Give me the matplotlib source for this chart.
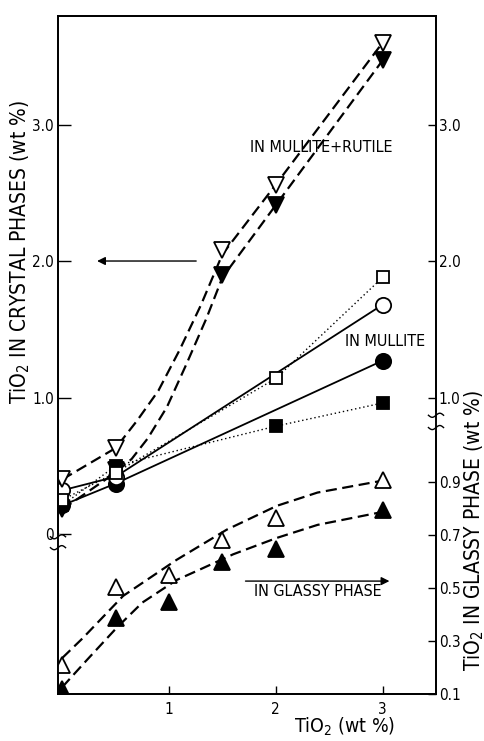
import numpy as np
import matplotlib
matplotlib.use('Agg')
import matplotlib.pyplot as plt
from matplotlib import font_manager as fm
from matplotlib.transforms import blended_transform_factory

# a condensed face is closest to the original lettering; use it if present
cond = [f for f in fm.fontManager.ttflist
        if f.name == 'DejaVu Sans' and 'Condensed' in f.fname]
if cond:
    plt.rcParams['font.family'] = ['DejaVu Sans']
    plt.rcParams['font.stretch'] = 'condensed'
    fs_tick, fs_note, fs_lab = 11, 11.5, 15
else:
    plt.rcParams['font.family'] = ['Liberation Sans', 'DejaVu Sans']
    plt.rcParams['mathtext.fontset'] = 'custom'
    plt.rcParams['mathtext.rm'] = 'Liberation Sans'
    fs_tick, fs_note, fs_lab = 11, 11.5, 13.5

# --- TiO2 in crystal phases (left scale) ---
x_rut = [0, 0.5, 1.5, 2, 3]
rut_open = [0.40, 0.63, 2.08, 2.56, 3.60]     # open down-triangles
rut_fill = [0.18, 0.47, 1.90, 2.41, 3.47]     # filled down-triangles
# dashed guide curves
rut_open_cx = [0, 0.5, 0.7, 0.9, 1.1, 1.3, 1.5, 2.0, 3.0]
rut_open_cy = [0.40, 0.63, 0.83, 1.05, 1.35, 1.68, 2.05, 2.56, 3.60]
rut_fill_cx = [0, 0.5, 0.65, 0.8, 0.98, 1.16, 1.35, 1.5, 2.0, 3.0]
rut_fill_cy = [0.18, 0.45, 0.55, 0.70, 0.93, 1.24, 1.58, 1.88, 2.41, 3.47]

x_circ = [0, 0.5, 3]
mul_circ_open = [0.32, 0.42, 1.68]
mul_circ_fill = [0.21, 0.37, 1.27]

x_sq = [0, 0.5, 2, 3]
mul_sq_open = [0.25, 0.45, 1.14, 1.88]
mul_sq_fill = [0.21, 0.50, 0.79, 0.96]

# --- TiO2 in glassy phase (right, lower scale) ---
x_gl = [0, 0.5, 1, 1.5, 2, 3]
gl_open = [0.21, 0.505, 0.549, 0.68, 0.764, 0.908]
gl_fill = [0.119, 0.387, 0.447, 0.598, 0.647, 0.794]
gl_open_cx = [0, 0.19, 0.57, 1.07, 1.54, 2.01, 2.39, 3.0]
gl_open_cy = [0.236, 0.31, 0.47, 0.606, 0.72, 0.81, 0.86, 0.905]
gl_fill_cx = [0, 0.23, 0.51, 0.75, 1.07, 1.28, 1.6, 2.01, 2.39, 3.0]
gl_fill_cy = [0.126, 0.228, 0.35, 0.445, 0.53, 0.568, 0.627, 0.689, 0.738, 0.787]

left_ticks = [0, 1, 2, 3]
left_labels = ['0', '1.0', '2.0', '3.0']
right_ticks = [1, 2, 3]
right_labels = ['1.0', '2.0', '3.0']
gl_ticks = [0.1, 0.3, 0.5, 0.7, 0.9]
gl_labels = ['0.1', '0.3', '0.5', '0.7', '0.9']
x_ticks = [1, 2, 3]

fig = plt.figure(figsize=(4.85, 7.41), dpi=100)
ax = fig.add_axes([58/485, 1-694/741, 378/485, 678/741])
ax.set_xlim(-0.04, 3.5)
ax.set_ylim(-1.172, 3.795)
ax_g = ax.twinx()
ax_g.set_ylim(0.1, 2.658)
ax_r = ax.twinx()
ax_r.set_ylim(ax.get_ylim())

dash = dict(color='k', lw=1.6, dashes=(5, 2.5))
ax.plot(rut_open_cx, rut_open_cy, **dash)
ax.plot(rut_fill_cx, rut_fill_cy, **dash)
ax.plot(x_circ, mul_circ_open, color='k', lw=1.3)
ax.plot(x_circ, mul_circ_fill, color='k', lw=1.3)
ax.plot(x_sq, mul_sq_open, color='k', lw=1.0, ls=(0, (1, 2)))
ax.plot(x_sq, mul_sq_fill, color='k', lw=1.0, ls=(0, (1, 2)))

mk = dict(ls='none', mec='k', mew=1.3)
ax.plot(x_sq, mul_sq_fill, marker='s', ms=9, mfc='k', **mk)
ax.plot(x_circ, mul_circ_fill, marker='o', ms=11, mfc='k', **mk)
ax.plot(x_rut, rut_fill, marker='v', ms=11, mfc='k', **mk)
ax.plot(x_circ, mul_circ_open, marker='o', ms=11, mfc='white', **mk)
ax.plot(x_sq, mul_sq_open, marker='s', ms=9, mfc='white', **mk)
ax.plot(x_rut, rut_open, marker='v', ms=11, mfc='white', **mk)

ax_g.plot(gl_open_cx, gl_open_cy, **dash)
ax_g.plot(gl_fill_cx, gl_fill_cy, **dash)
ax_g.plot(x_gl, gl_open, marker='^', ms=11, mfc='white', **mk)
ax_g.plot(x_gl, gl_fill, marker='^', ms=11, mfc='k', **mk)

# ticks
ax.set_xticks(x_ticks)
ax.set_xticklabels([str(t) for t in x_ticks])
ax.set_yticks(left_ticks)
ax.set_yticklabels(left_labels)
ax.tick_params(axis='y', direction='in', length=9, width=1, labelsize=fs_tick, pad=3)
ax.tick_params(axis='x', direction='in', length=6, width=1, labelsize=fs_tick, pad=6)
ax_g.set_yticks(gl_ticks)
ax_g.set_yticklabels(gl_labels)
ax_g.tick_params(axis='y', direction='in', length=6, width=1, labelsize=fs_tick, pad=2)
ax_r.set_yticks(right_ticks)
ax_r.set_yticklabels(right_labels)
ax_r.tick_params(axis='y', direction='in', length=6, width=1, labelsize=fs_tick, pad=2)
for a in (ax, ax_g, ax_r):
    for s in a.spines.values():
        s.set_linewidth(1.1)

# axis breaks
tr = blended_transform_factory(ax.transAxes, ax.transData)
xs = np.linspace(-0.02, 0.02, 30)
for xa, (y_hi, y_lo) in [(0, (-0.02, -0.10)), (1, (0.87, 0.78))]:
    ax.plot([xa, xa], [y_lo, y_hi], color='white', lw=4, transform=tr,
            clip_on=False, zorder=6)
    for yc in (y_hi, y_lo):
        ax.plot(xa + xs, yc + 0.015 * np.sin(np.pi * xs / 0.02), color='k',
                lw=1.0, transform=tr, clip_on=False, zorder=7)

# arrows and annotations
ax.annotate('', xy=(0.30, 2.0), xytext=(1.28, 2.0),
            arrowprops=dict(arrowstyle='-|>', lw=1.0, color='k', mutation_scale=12))
ax_g.annotate('', xy=(3.09, 0.526), xytext=(1.69, 0.526),
              arrowprops=dict(arrowstyle='-|>', lw=1.0, color='k', mutation_scale=12))
ax_g.text(2.39, 0.485, 'IN GLASSY PHASE', ha='center', va='center', fontsize=fs_note)
ax.text(2.43, 2.83, 'IN MULLITE+RUTILE', ha='center', va='center', fontsize=fs_note)
ax.text(3.02, 1.41, 'IN MULLITE', ha='center', va='center', fontsize=fs_note)

fig.text(20/485, 1-252/741, 'TiO$_2$ IN CRYSTAL PHASES (wt %)', rotation=90,
         ha='center', va='center', fontsize=fs_lab)
fig.text(474/485, 1-531/741, 'TiO$_2$ IN GLASSY PHASE (wt %)', rotation=90,
         ha='center', va='center', fontsize=fs_lab)
fig.text(345/485, 1-727/741, 'TiO$_2$ (wt %)', ha='center', va='center', fontsize=14)

fig.savefig('out.png', dpi=100)
